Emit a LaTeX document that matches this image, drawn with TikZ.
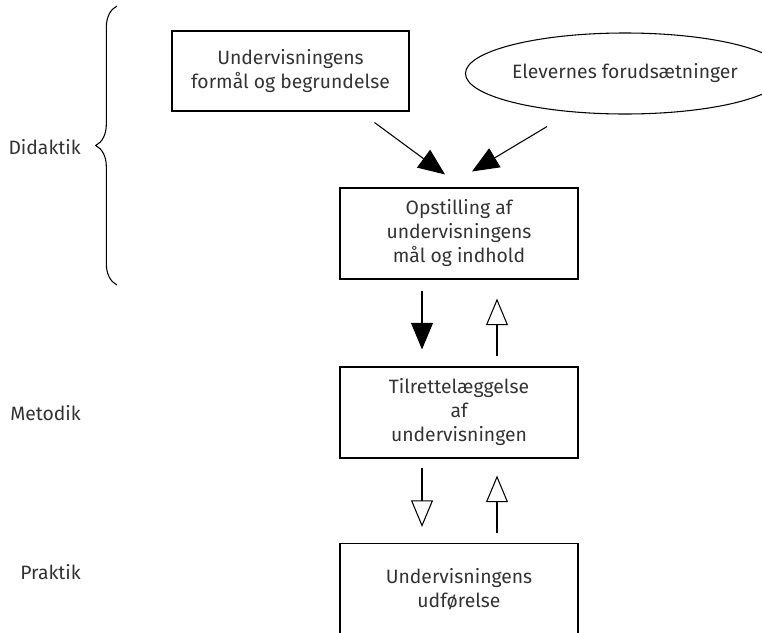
\documentclass[tikz,border=0pt]{standalone}
\usepackage{fontspec}
\setmainfont{Fira Sans}
\usetikzlibrary{shapes.geometric, arrows.meta, positioning, decorations.pathreplacing}

\begin{document}
\begin{tikzpicture}[x=0.75pt, y=-0.75pt, font=\fontsize{14.5}{18}\selectfont, text=black!80]
    \tikzstyle{box} = [rectangle, draw=black, line width=0.8pt, align=center, inner sep=0pt, minimum width=178.5pt, minimum height=68.25pt]
    \tikzstyle{oval} = [ellipse, draw=black, line width=0.8pt, align=center, inner sep=0pt, minimum width=214.5pt, minimum height=60.75pt]
    \tikzstyle{label} = [anchor=east, inner sep=0pt]
    \tikzstyle{solidarrow} = [line width=0.8pt, -{Triangle[length=20pt, width=16.5pt]}]
    \tikzstyle{openarrow} = [line width=0.8pt, -{Triangle[open, length=20pt, width=16.5pt]}]

    \useasboundingbox (0,0) rectangle (762,632);

    \node[box, minimum width=177.75pt, minimum height=60pt] (purpose) at (290.5,71) {Undervisningens\\formål og begrundelse};
    \node[oval] (pupils) at (625,73.5) {Elevernes forudsætninger};
    \node[box] (goals) at (459,233.5) {Opstilling af\\undervisningens\\mål og indhold};
    \node[box] (planning) at (459,412.5) {Tilrettelæggelse\\af\\undervisningen};
    \node[box] (execution) at (459,589) {Undervisningens\\udførelse};

    \node[label] (didaktik) at (81,147) {Didaktik};
    \node[label] (metodik) at (81,413) {Metodik};
    \node[label] (praktik) at (81,572) {Praktik};

    \coordinate (bracebot) at (117,285);
    \coordinate (bracetop) at (117,6);
    \draw[line width=0.8pt, decorate, decoration={brace, amplitude=16pt}] (bracebot) -- (bracetop);

    \draw[solidarrow] ([shift={(84,11)}]purpose.south) -- ([shift={(-14,-13)}]goals.north);
    \draw[solidarrow] ([shift={(-78,12)}]pupils.south) -- ([shift={(13,-16)}]goals.north);
    \draw[solidarrow] ([shift={(-37,11)}]goals.south) -- ([shift={(-37,-17)}]planning.north);
    \draw[openarrow] ([shift={(38,-10)}]planning.north) -- ([shift={(38,19)}]goals.south);
    \draw[openarrow] ([shift={(-37,9)}]planning.south) -- ([shift={(-37,-16)}]execution.north);
    \draw[openarrow] ([shift={(38,-10)}]execution.north) -- ([shift={(38,17)}]planning.south);
\end{tikzpicture}
\end{document}
